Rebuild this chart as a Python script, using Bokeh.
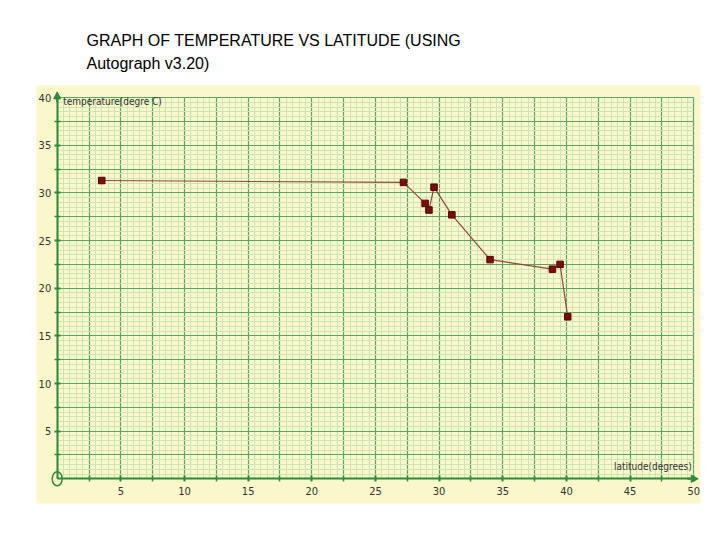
import numpy as np
from bokeh.plotting import figure
from bokeh.models import (FixedTicker, Grid, Arrow, NormalHead, Label, Title, Range1d)
from bokeh.core.properties import value
from bokeh.embed import file_html
from bokeh.resources import INLINE

# data
latitude = [3.5, 27.2, 28.9, 29.2, 29.6, 31.0, 34.0, 38.9, 39.5, 40.1]
temperature = [31.3, 31.1, 28.9, 28.2, 30.6, 27.7, 23.0, 22.0, 22.5, 17.0]

x_ticks = [5, 10, 15, 20, 25, 30, 35, 40, 45, 50]
y_ticks = [5, 10, 15, 20, 25, 30, 35, 40]

title_line1 = "GRAPH OF TEMPERATURE VS LATITUDE (USING"
title_line2 = "Autograph v3.20)"
x_label = "latitude(degrees)"
y_label = "temperature(degre C)"

BG = "#FAF7CA"
MAJOR = "#55A863"
MINOR = "#CDE4B4"
AXIS = "#2E8B37"
NARROW = "Liberation Sans Narrow, DejaVu Sans Condensed, Arial Narrow, sans-serif"

p = figure(width=720, height=540, output_backend="svg", toolbar_location=None,
           x_range=Range1d(-1.626, 50.53), y_range=Range1d(-2.59, 41.27),
           min_border_left=36, min_border_right=20, min_border_top=85, min_border_bottom=37,
           background_fill_color=BG, border_fill_color="white", outline_line_color=None)

p.xgrid.visible = False
p.ygrid.visible = False

gx = np.arange(0, 50.01, 2.5).tolist()
gy = np.arange(0, 40.01, 2.5).tolist()
mx = np.arange(0, 50.01, 0.5).tolist()
my = np.arange(0, 40.01, 0.5).tolist()

has_cross = "cross_bounds" in Grid.properties()
xg = Grid(dimension=0, ticker=FixedTicker(ticks=gx, minor_ticks=mx), bounds=(0, 50),
          grid_line_color=MAJOR, grid_line_width=1.2,
          minor_grid_line_color=MINOR, minor_grid_line_width=1, level="underlay")
yg = Grid(dimension=1, ticker=FixedTicker(ticks=gy, minor_ticks=my), bounds=(0, 40),
          grid_line_color=MAJOR, grid_line_width=1.2,
          minor_grid_line_color=MINOR, minor_grid_line_width=1, level="underlay")
if has_cross:
    xg.cross_bounds = (0, 40)
    yg.cross_bounds = (0, 50)
p.add_layout(xg, "center")
p.add_layout(yg, "center")

# axes through the origin
for ax, ticks, minor, bnd in ((p.xaxis[0], x_ticks, np.arange(2.5, 50, 5).tolist(), (0, 50)),
                              (p.yaxis[0], y_ticks, np.arange(2.5, 40, 5).tolist(), (0, 40))):
    ax.ticker = FixedTicker(ticks=ticks, minor_ticks=minor)
    ax.fixed_location = 0
    ax.bounds = bnd
    ax.axis_line_color = AXIS
    ax.axis_line_width = 2
    ax.major_tick_line_color = AXIS
    ax.major_tick_line_width = 2
    ax.major_tick_in = 3
    ax.major_tick_out = 3
    ax.minor_tick_line_color = AXIS
    ax.minor_tick_line_width = 1.5
    ax.minor_tick_in = 3
    ax.minor_tick_out = 3
    ax.major_label_text_font = NARROW
    ax.major_label_text_font_size = "11px"
    ax.major_label_text_color = "#333333"
p.xaxis[0].major_label_standoff = 5
p.yaxis[0].major_label_standoff = 3

head_x = NormalHead(size=7, fill_color=AXIS, line_color=AXIS)
p.add_layout(Arrow(end=head_x, x_start=49.5, y_start=0, x_end=50.35, y_end=0,
                   line_color=AXIS, line_width=2))
head_y = NormalHead(size=7, fill_color=AXIS, line_color=AXIS)
p.add_layout(Arrow(end=head_y, x_start=0, y_start=39.5, x_end=0, y_end=40.6,
                   line_color=AXIS, line_width=2))

# origin "0" drawn as Autograph's green oval
p.ellipse(x=[0], y=[0], width=10, height=14, width_units="screen", height_units="screen",
          fill_color=None, line_color=AXIS, line_width=1.5)

p.add_layout(Label(x=0, y=40, text=y_label, x_offset=6, y_offset=-4,
                   text_font=NARROW, text_font_size="10px", text_color="#333333",
                   text_baseline="middle"))
p.add_layout(Label(x=50, y=0, text=x_label, x_offset=-2, y_offset=12,
                   text_font=NARROW, text_font_size="10px", text_color="#333333",
                   text_align="right", text_baseline="middle"))

# data
p.line(latitude, temperature, line_color="#94473A", line_width=1.2)
p.scatter(latitude, temperature, marker="square", size=6.5, fill_color="#7A0C0C",
          line_color="#5A0000", line_width=1)

p.add_layout(Title(text=title_line1 + "\n" + title_line2, align="left", offset=50,
                   text_font="Liberation Sans", text_font_size="16px",
                   text_font_style="normal", text_color="black",
                   text_line_height=1.4, standoff=26), "above")

open("out.html", "w").write(file_html(p, INLINE))
